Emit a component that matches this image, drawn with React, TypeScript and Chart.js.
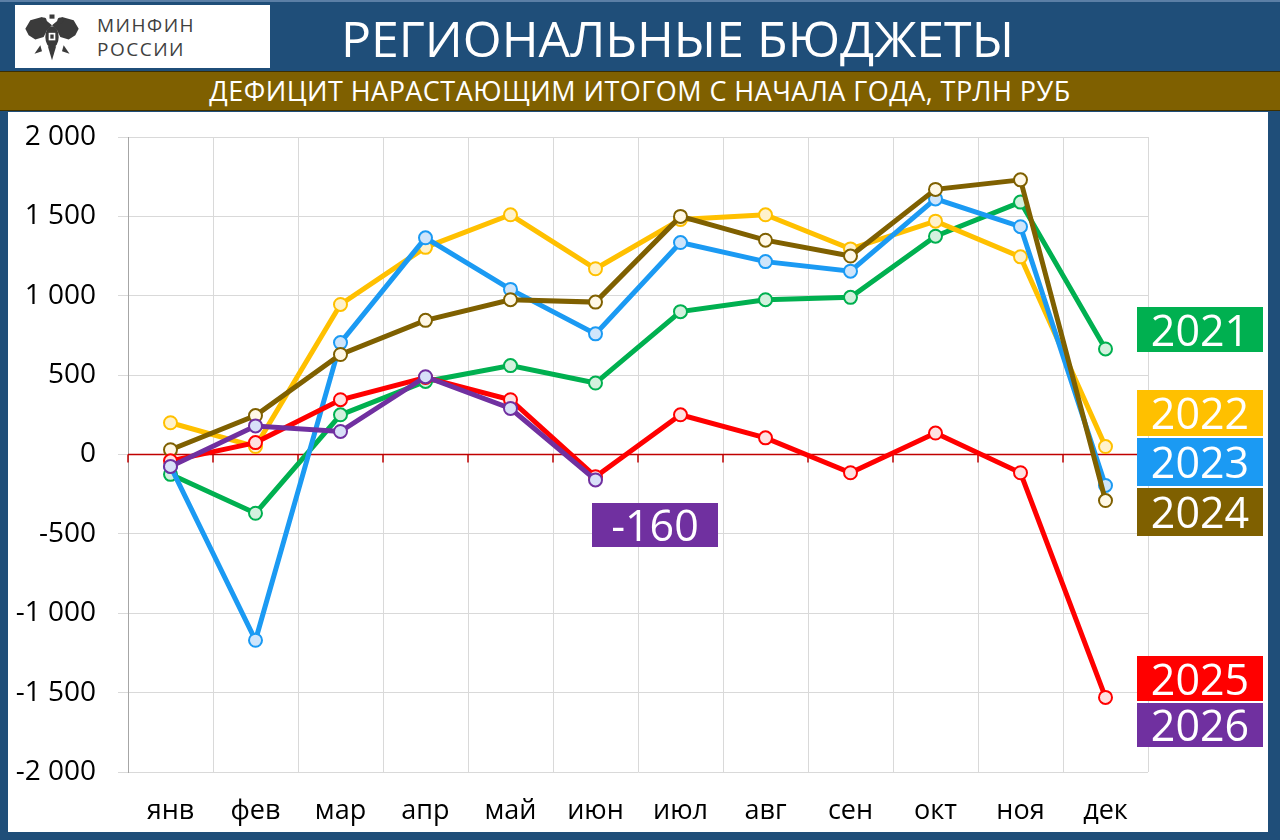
import { useEffect, useRef } from 'react';
import Chart from 'chart.js/auto';

const months = ['янв', 'фев', 'мар', 'апр', 'май', 'июн', 'июл', 'авг', 'сен', 'окт', 'ноя', 'дек'];

const years = ['2021', '2022', '2023', '2024', '2025', '2026'];

const values2021 = [-125, -370, 250, 460, 560, 450, 900, 975, 990, 1375, 1590, 665];
const values2022 = [200, 50, 945, 1305, 1510, 1170, 1480, 1510, 1295, 1470, 1245, 50];
const values2023 = [-75, -1170, 705, 1365, 1040, 760, 1335, 1215, 1155, 1610, 1435, -195];
const values2024 = [30, 245, 630, 845, 975, 960, 1500, 1350, 1250, 1670, 1730, -290];
const values2025 = [-40, 75, 345, 485, 345, -140, 250, 105, -115, 135, -115, -1530];
const values2026 = [-75, 180, 145, 490, 290, -160];

const lastValue2026 = '-160';

const lineColors = ['#00b050', '#ffc000', '#1b9af3', '#7f6000', '#ff0000', '#7030a0'];
const pointFills = ['#d3f1de', '#fff2cc', '#cfe5fb', '#fff8e6', '#ffe1e1', '#d8e0f8'];

const yTicks = { min: -2000, max: 2000, step: 500 };

const formatThousands = (v: number) => {
    const s = Math.abs(v).toString().replace(/\B(?=(\d{3})+(?!\d))/g, ' ');
    return (v < 0 ? '-' : '') + s;
};

// red zero line with little tick marks, like the Excel horizontal axis
const zeroAxis = {
    id: 'zeroAxis',
    beforeDatasetsDraw(chart: any) {
        const { ctx, chartArea, scales } = chart;
        const y0 = scales.y.getPixelForValue(0);
        const step = (chartArea.right - chartArea.left) / months.length;
        ctx.save();
        ctx.strokeStyle = '#c00000';
        ctx.lineWidth = 1.5;
        ctx.beginPath();
        ctx.moveTo(chartArea.left, y0);
        ctx.lineTo(chartArea.right, y0);
        for (let i = 0; i <= months.length; i++) {
            const x = chartArea.left + step * i;
            ctx.moveTo(x, y0);
            ctx.lineTo(x, y0 + 8);
        }
        ctx.stroke();
        ctx.restore();
    }
};

const LineChart = () => {
    const canvas = useRef<HTMLCanvasElement>(null);

    useEffect(() => {
        const series = [values2021, values2022, values2023, values2024, values2025, values2026];

        const chart = new Chart(
            // @ts-expect-error next
            canvas.current,
            {
                type: 'line',
                data: {
                    labels: months,
                    datasets: series.map((data, i) => ({
                        label: years[i],
                        data: data,
                        borderColor: lineColors[i],
                        backgroundColor: lineColors[i],
                        borderWidth: 5,
                        tension: 0,
                        pointRadius: 6.5,
                        pointBorderWidth: 2,
                        pointBorderColor: lineColors[i],
                        pointBackgroundColor: pointFills[i],
                        order: series.length - i
                    }))
                },
                options: {
                    responsive: false,
                    animation: false,
                    layout: {
                        padding: { top: 25, right: 120, bottom: 0, left: 0 }
                    },
                    plugins: {
                        legend: { display: false },
                        tooltip: { enabled: false }
                    },
                    scales: {
                        x: {
                            offset: true,
                            grid: {
                                offset: true,
                                color: '#d9d9d9',
                                drawTicks: false
                            },
                            border: { display: false },
                            ticks: {
                                color: '#000000',
                                padding: 23,
                                font: { family: 'Open Sans', size: 27 }
                            },
                            afterFit: (scale: any) => {
                                scale.height = 60;
                            }
                        },
                        y: {
                            min: yTicks.min,
                            max: yTicks.max,
                            grid: {
                                color: '#d9d9d9',
                                tickLength: 10
                            },
                            border: { color: '#a6a6a6' },
                            ticks: {
                                stepSize: yTicks.step,
                                color: '#000000',
                                padding: 22,
                                font: { family: 'Open Sans', size: 28 },
                                callback: (v: any) => formatThousands(Number(v))
                            },
                            afterFit: (scale: any) => {
                                scale.width = 120;
                                scale.paddingTop = 0;
                                scale.paddingBottom = 0;
                            }
                        }
                    }
                },
                plugins: [zeroAxis]
            }
        );

        return () => {
            chart.destroy();
        };
    }, []);

    return <canvas ref={canvas} width={1260} height={720} aria-label="Региональные бюджеты" role="img"></canvas>;
};

const tag = (text: string, color: string, left: number, top: number, height: number) => (
    <div
        style={{
            position: 'absolute',
            left,
            top,
            width: 126,
            height,
            background: color,
            color: '#ffffff',
            fontFamily: 'Open Sans',
            fontSize: 43,
            lineHeight: height + 'px',
            textAlign: 'center'
        }}
    >
        {text}
    </div>
);

const Eagle = () => (
    <svg width={60} height={58} viewBox="0 0 72 60" style={{ position: 'absolute', left: 7, top: 3 }}>
        <g fill="#3b3b3b">
            <path d="M36 16 L24 6 L10 10 L4 20 L8 28 L16 33 L26 30 L30 22 Z" />
            <path d="M36 16 L48 6 L62 10 L68 20 L64 28 L56 33 L46 30 L42 22 Z" />
            <circle cx={26} cy={10} r={3.5} />
            <circle cx={46} cy={10} r={3.5} />
            <ellipse cx={36} cy={30} rx={8} ry={13} />
            <path d="M31 41 L36 58 L41 41 Z" />
            <path d="M22 40 L15 50 L24 47 Z" />
            <path d="M50 40 L57 50 L48 47 Z" />
            <rect x={33} y={3} width={6} height={5} />
        </g>
        <rect x={32} y={25} width={8} height={9} fill="#ffffff" />
        <rect x={34} y={27} width={4} height={5} fill="#3b3b3b" />
    </svg>
);

const App = () => {
    return (
        <div
            style={{
                position: 'absolute',
                left: 0,
                top: 0,
                width: 1280,
                height: 840,
                background: '#1f4e79',
                overflow: 'hidden'
            }}
        >
            <div style={{ position: 'absolute', left: 0, top: 0, width: 1280, height: 2, background: '#5b7fa6' }}></div>
            <div style={{ position: 'absolute', left: 15, top: 5, width: 255, height: 63, background: '#ffffff' }}>
                <Eagle />
                <div
                    style={{
                        position: 'absolute',
                        left: 82,
                        top: 8,
                        fontFamily: 'Open Sans',
                        fontSize: 19,
                        lineHeight: '24px',
                        letterSpacing: 1.5,
                        color: '#3f3f3f'
                    }}
                >
                    МИНФИН
                    <br />
                    РОССИИ
                </div>
            </div>
            <div
                style={{
                    position: 'absolute',
                    left: 280,
                    top: 0,
                    width: 795,
                    height: 72,
                    lineHeight: '76px',
                    textAlign: 'center',
                    color: '#ffffff',
                    fontFamily: 'Open Sans',
                    fontSize: 50
                }}
            >
                РЕГИОНАЛЬНЫЕ БЮДЖЕТЫ
            </div>
            <div
                style={{
                    position: 'absolute',
                    left: 0,
                    top: 71,
                    width: 1280,
                    height: 38,
                    background: '#7f6000',
                    borderTop: '1px solid #3d2f00',
                    borderBottom: '1px solid #3d2f00',
                    lineHeight: '38px',
                    textAlign: 'center',
                    color: '#ffffff',
                    fontFamily: 'Open Sans',
                    fontSize: 27,
                    letterSpacing: 0.45
                }}
            >
                ДЕФИЦИТ НАРАСТАЮЩИМ ИТОГОМ С НАЧАЛА ГОДА, ТРЛН РУБ
            </div>
            <div style={{ position: 'absolute', left: 8, top: 112, width: 1260, height: 720, background: '#ffffff' }}>
                <LineChart />
            </div>
            {tag(years[0], lineColors[0], 1137, 307, 45)}
            {tag(years[1], lineColors[1], 1137, 390, 46)}
            {tag(years[2], lineColors[2], 1137, 438, 48)}
            {tag(years[3], lineColors[3], 1137, 488, 48)}
            {tag(years[4], lineColors[4], 1137, 656, 45)}
            {tag(years[5], lineColors[5], 1137, 703, 44)}
            {tag(lastValue2026, lineColors[5], 592, 503, 44)}
        </div>
    );
};

export default App;
